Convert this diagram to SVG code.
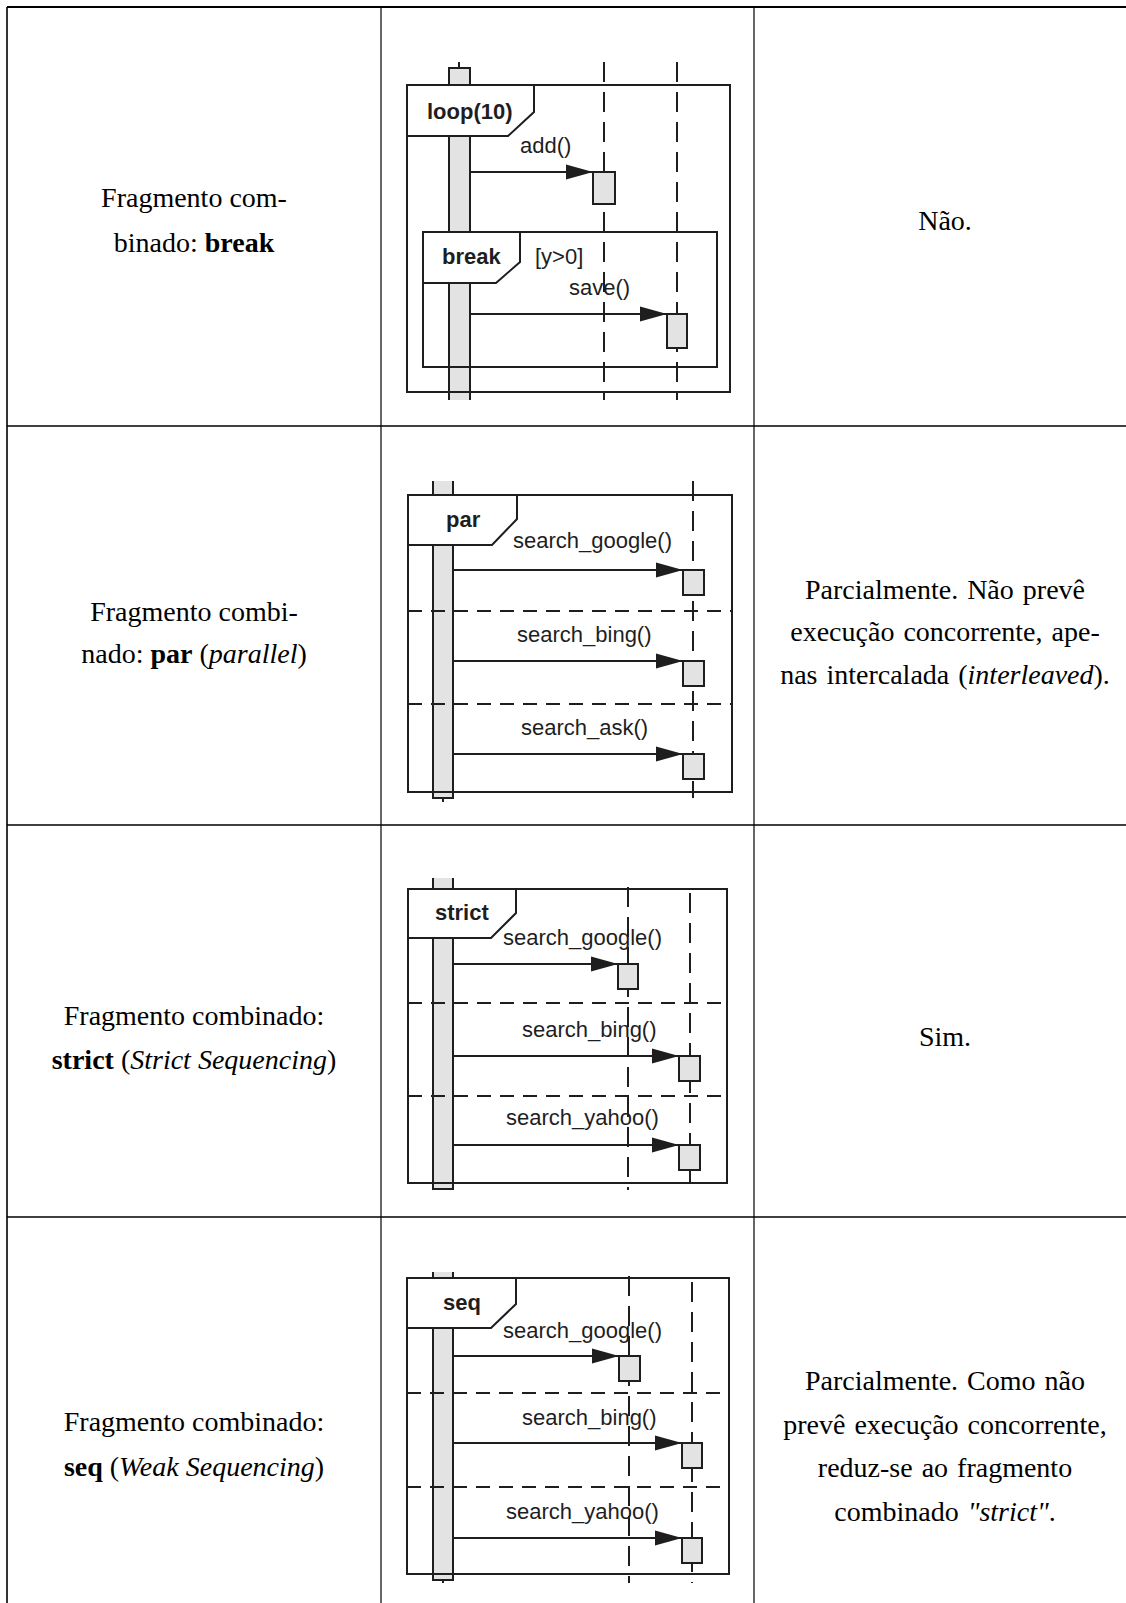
<svg xmlns="http://www.w3.org/2000/svg" width="1126" height="1603" viewBox="0 0 1126 1603">
  <style>
    .grid { stroke:#000; fill:none; }
    .body { font-family:"Liberation Serif","Times New Roman",serif; font-size:28px; fill:#000; text-anchor:middle; }
    .wide { word-spacing:2px; }
    .b { font-weight:bold; }
    .i { font-style:italic; }
    .frame { fill:none; stroke:#1e1e1e; stroke-width:2; }
    .tag { fill:#fff; stroke:#1e1e1e; stroke-width:2; }
    .act { fill:#e3e3e3; stroke:#1e1e1e; stroke-width:2; }
    .actfill { fill:#e3e3e3; stroke:none; }
    .edge { fill:none; stroke:#1e1e1e; stroke-width:2; }
    .life { stroke:#1e1e1e; stroke-width:2; stroke-dasharray:20 10; }
    .sep { stroke:#1e1e1e; stroke-width:2; stroke-dasharray:14 9; }
    .msg { stroke:#1e1e1e; stroke-width:2; fill:none; marker-end:url(#head); }
    .lbl { font-family:"Liberation Sans",Arial,sans-serif; font-size:22px; fill:#1e1e1e; }
    .kw { font-family:"Liberation Sans",Arial,sans-serif; font-size:22px; font-weight:bold; fill:#1e1e1e; }
  </style>
  <defs>
    <marker id="head" markerUnits="userSpaceOnUse" markerWidth="27" markerHeight="16" refX="27" refY="8" orient="auto">
      <path d="M0,0.5 L27,8 L0,15.5 z" fill="#1e1e1e"/>
    </marker>
  </defs>

  <rect width="1126" height="1603" fill="#fff"/>

  <!-- table rules -->
  <g id="table">
    <line class="grid" x1="7" y1="7" x2="1126" y2="7" stroke-width="2"/>
    <line class="grid" x1="7" y1="426" x2="1126" y2="426" stroke-width="1.6"/>
    <line class="grid" x1="7" y1="825" x2="1126" y2="825" stroke-width="1.6"/>
    <line class="grid" x1="7" y1="1217" x2="1126" y2="1217" stroke-width="1.6"/>
    <line class="grid" x1="7" y1="7" x2="7" y2="1603" stroke="#555" stroke-width="1.6"/>
    <line class="grid" x1="381" y1="7" x2="381" y2="1603" stroke="#444" stroke-width="1.2"/>
    <line class="grid" x1="754" y1="7" x2="754" y2="1603" stroke-width="1.2"/>
  </g>

  <!-- first column: fragment names -->
  <g id="col-fragment">
    <text class="body" x="194" y="207">Fragmento com-</text>
    <text class="body" x="194" y="252">binado: <tspan class="b">break</tspan></text>
    <text class="body" x="194" y="621">Fragmento combi-</text>
    <text class="body" x="194" y="663">nado: <tspan class="b">par</tspan> (<tspan class="i">parallel</tspan>)</text>
    <text class="body" x="194" y="1025">Fragmento combinado:</text>
    <text class="body" x="194" y="1069"><tspan class="b">strict</tspan> (<tspan class="i">Strict Sequencing</tspan>)</text>
    <text class="body" x="194" y="1431">Fragmento combinado:</text>
    <text class="body" x="194" y="1476"><tspan class="b">seq</tspan> (<tspan class="i">Weak Sequencing</tspan>)</text>
  </g>

  <!-- third column: support -->
  <g id="col-support">
    <text class="body" x="945" y="230">Não.</text>
    <text class="body wide" x="945" y="599">Parcialmente. Não prevê</text>
    <text class="body wide" x="945" y="641">execução concorrente, ape-</text>
    <text class="body wide" x="945" y="684">nas intercalada (<tspan class="i">interleaved</tspan>).</text>
    <text class="body" x="945" y="1046">Sim.</text>
    <text class="body wide" x="945" y="1390">Parcialmente. Como não</text>
    <text class="body wide" x="945" y="1434">prevê execução concorrente,</text>
    <text class="body wide" x="945" y="1477">reduz-se ao fragmento</text>
    <text class="body wide" x="945" y="1521">combinado <tspan class="i">"strict"</tspan>.</text>
  </g>

  <!-- ===== break diagram ===== -->
  <g id="break-diagram">
    <g id="break-caller">
      <line class="edge" x1="459" y1="62" x2="459" y2="68"/>
      <rect class="actfill" x="449" y="68" width="21" height="332"/>
      <path class="edge" d="M449,400 V68 H470 V400"/>
    </g>
    <g id="break-lifeline-b"><line class="life" x1="604" y1="62" x2="604" y2="400"/></g>
    <g id="break-lifeline-c"><line class="life" x1="677" y1="62" x2="677" y2="400"/></g>
    <g id="loop-frame">
      <rect class="frame" x="407" y="85" width="323" height="307"/>
      <path class="tag" d="M407,85 H534 V112 L508,136 H407 Z"/>
      <text class="kw" x="427" y="119">loop(10)</text>
    </g>
    <g id="break-frame">
      <rect class="frame" x="423" y="232" width="294" height="135"/>
      <path class="tag" d="M423,232 H520 V262 L496,283 H423 Z"/>
      <text class="kw" x="442" y="264">break</text>
      <text class="lbl" x="535" y="264">[y&gt;0]</text>
    </g>
    <g id="break-act-b"><rect class="act" x="593" y="172" width="22" height="32"/></g>
    <g id="break-act-c"><rect class="act" x="667" y="314" width="20" height="34"/></g>
    <g id="break-messages">
      <line class="msg" x1="470" y1="172" x2="593" y2="172"/>
      <text class="lbl" x="520" y="153">add()</text>
      <line class="msg" x1="470" y1="314" x2="667" y2="314"/>
      <text class="lbl" x="569" y="295">save()</text>
    </g>
  </g>

  <!-- ===== par diagram ===== -->
  <g id="par-diagram">
    <g id="par-caller">
      <rect class="actfill" x="433" y="481" width="20" height="317"/>
      <path class="edge" d="M433,481 V798 H453 V481"/>
      <line class="edge" x1="443" y1="798" x2="443" y2="802" stroke-width="1.5"/>
    </g>
    <g id="par-lifeline-b"><line class="life" x1="693" y1="481" x2="693" y2="798" stroke-dasharray="2 14 20 10"/></g>
    <g id="par-frame">
      <rect class="frame" x="408" y="495" width="324" height="297"/>
      <line class="sep" x1="408" y1="611" x2="732" y2="611"/>
      <line class="sep" x1="408" y1="704" x2="732" y2="704"/>
      <path class="tag" d="M408,495 H517 V519 L492,545 H408 Z"/>
      <text class="kw" x="446" y="527">par</text>
    </g>
    <g id="par-act-1"><rect class="act" x="683" y="570" width="21" height="25"/></g>
    <g id="par-act-2"><rect class="act" x="683" y="661" width="21" height="25"/></g>
    <g id="par-act-3"><rect class="act" x="683" y="754" width="21" height="25"/></g>
    <g id="par-messages">
      <line class="msg" x1="453" y1="570" x2="683" y2="570"/>
      <text class="lbl" x="513" y="548">search_google()</text>
      <line class="msg" x1="453" y1="661" x2="683" y2="661"/>
      <text class="lbl" x="517" y="642">search_bing()</text>
      <line class="msg" x1="453" y1="754" x2="683" y2="754"/>
      <text class="lbl" x="521" y="735">search_ask()</text>
    </g>
  </g>

  <!-- ===== strict diagram ===== -->
  <g id="strict-diagram">
    <g id="strict-caller">
      <rect class="actfill" x="433" y="878" width="20" height="311"/>
      <path class="edge" d="M433,878 V1189 H453 V878"/>
    </g>
    <g id="strict-lifeline-b"><line class="life" x1="628" y1="887" x2="628" y2="1190"/></g>
    <g id="strict-lifeline-c"><line class="life" x1="690" y1="893" x2="690" y2="1190"/></g>
    <g id="strict-frame">
      <rect class="frame" x="408" y="889" width="319" height="294"/>
      <line class="sep" x1="408" y1="1003" x2="727" y2="1003"/>
      <line class="sep" x1="408" y1="1096" x2="727" y2="1096"/>
      <path class="tag" d="M408,889 H516 V913 L491,938 H408 Z"/>
      <text class="kw" x="435" y="920">strict</text>
    </g>
    <g id="strict-act-1"><rect class="act" x="618" y="964" width="20" height="25"/></g>
    <g id="strict-act-2"><rect class="act" x="679" y="1056" width="21" height="25"/></g>
    <g id="strict-act-3"><rect class="act" x="679" y="1145" width="21" height="25"/></g>
    <g id="strict-messages">
      <line class="msg" x1="453" y1="964" x2="618" y2="964"/>
      <text class="lbl" x="503" y="945">search_google()</text>
      <line class="msg" x1="453" y1="1056" x2="679" y2="1056"/>
      <text class="lbl" x="522" y="1037">search_bing()</text>
      <line class="msg" x1="453" y1="1145" x2="679" y2="1145"/>
      <text class="lbl" x="506" y="1125">search_yahoo()</text>
    </g>
  </g>

  <!-- ===== seq diagram ===== -->
  <g id="seq-diagram">
    <g id="seq-caller">
      <rect class="actfill" x="433" y="1272" width="20" height="308"/>
      <path class="edge" d="M433,1272 V1580 H453 V1272"/>
      <line class="edge" x1="443" y1="1580" x2="443" y2="1583" stroke-width="1.5"/>
    </g>
    <g id="seq-lifeline-b"><line class="life" x1="629" y1="1276" x2="629" y2="1583"/></g>
    <g id="seq-lifeline-c"><line class="life" x1="692" y1="1282" x2="692" y2="1583"/></g>
    <g id="seq-frame">
      <rect class="frame" x="407" y="1278" width="322" height="296"/>
      <line class="sep" x1="407" y1="1393" x2="729" y2="1393"/>
      <line class="sep" x1="407" y1="1487" x2="729" y2="1487"/>
      <path class="tag" d="M407,1278 H516 V1304 L491,1328 H407 Z"/>
      <text class="kw" x="443" y="1310">seq</text>
    </g>
    <g id="seq-act-1"><rect class="act" x="619" y="1356" width="21" height="25"/></g>
    <g id="seq-act-2"><rect class="act" x="682" y="1443" width="20" height="25"/></g>
    <g id="seq-act-3"><rect class="act" x="682" y="1538" width="20" height="25"/></g>
    <g id="seq-messages">
      <line class="msg" x1="453" y1="1356" x2="619" y2="1356"/>
      <text class="lbl" x="503" y="1338">search_google()</text>
      <line class="msg" x1="453" y1="1443" x2="682" y2="1443"/>
      <text class="lbl" x="522" y="1425">search_bing()</text>
      <line class="msg" x1="453" y1="1538" x2="682" y2="1538"/>
      <text class="lbl" x="506" y="1519">search_yahoo()</text>
    </g>
  </g>
</svg>
